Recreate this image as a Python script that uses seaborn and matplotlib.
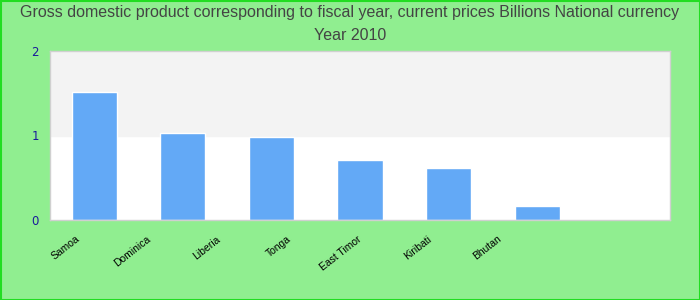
import matplotlib
matplotlib.use("Agg")
import matplotlib.pyplot as plt
import seaborn as sns
import pandas as pd
import numpy as np
from matplotlib.patches import Rectangle

countries = ["Samoa", "Dominica", "Liberia", "Tonga", "East Timor", "Kiribati", "Bhutan"]
gdp = [1.51, 1.03, 0.98, 0.71, 0.62, 0.17, 0.0]
title_lines = ["Gross domestic product corresponding to fiscal year, current prices Billions National currency",
               "Year 2010"]
yticks = [0, 1, 2]

sns.set_style("white")
plt.rcParams['font.family'] = ['Liberation Sans', 'DejaVu Sans']

df = pd.DataFrame({"country": countries, "gdp": gdp})

fig = plt.figure(figsize=(7, 3), dpi=100, facecolor="#90ee90")
ax = fig.add_axes([50/700, 80/300, 620/700, 169/300])
ax.set_facecolor("white")
ax.axhspan(1, 2, color="#f3f3f3", zorder=0)

sns.barplot(data=df, x="country", y="gdp", color="#63a9f6", saturation=1,
            width=0.51, ax=ax, zorder=2)

ax.set_xlim(-0.5, len(countries) - 0.5)
ax.set_ylim(0, 2)
ax.set_yticks(yticks)
ax.set_yticklabels([str(t) for t in yticks], color="#1a1a9a", fontsize=8.5,
                   family="DejaVu Sans")
ax.tick_params(axis="y", length=0, pad=8)

n = len(countries)
label_pos = [-0.21 + 0.793 * i for i in range(n)]
ax.set_xticks(label_pos)
ax.set_xticklabels(countries, rotation=38, ha="right", va="top",
                   rotation_mode="anchor", fontsize=7.5, color="black")
ax.tick_params(axis="x", length=0, pad=10)
ax.set_xlabel("")
ax.set_ylabel("")

for s in ax.spines.values():
    s.set_color("#d0d0d0")
    s.set_linewidth(1)

fig.text(0.5, 1 - 13/300, title_lines[0], ha="center", va="center",
         fontsize=11.5, color="#444444")
fig.text(0.5, 1 - 36/300, title_lines[1], ha="center", va="center",
         fontsize=11.5, color="#444444")

fig.patches.append(Rectangle((0.5/700, 0.5/300), 1 - 1/700, 1 - 1/300,
                             transform=fig.transFigure, fill=False,
                             edgecolor="#22dd22", linewidth=1.5))

fig.savefig("out.png", dpi=100, facecolor=fig.get_facecolor())
